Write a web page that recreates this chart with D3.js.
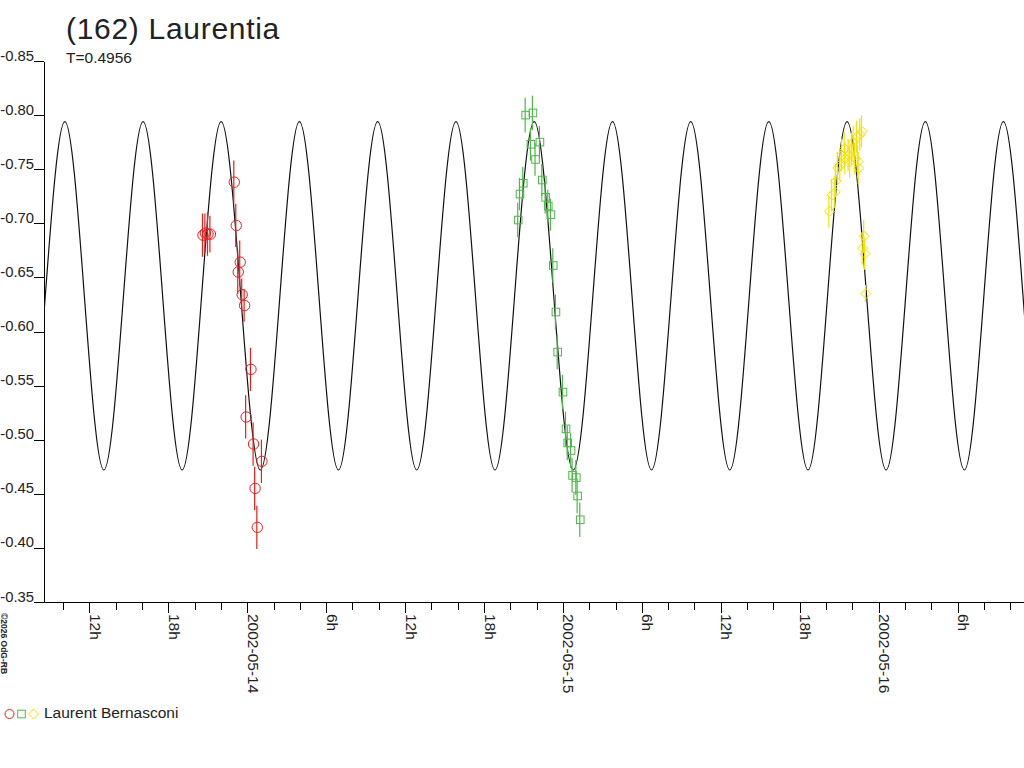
<!DOCTYPE html>
<meta charset="utf-8">
<style>
body { margin: 0; background: #fff; }
svg { display: block; font-family: "Liberation Sans", Arial, sans-serif; }
.axis path, .axis line { fill: none; stroke: #000; shape-rendering: crispEdges; }
.axis text { font-size: 15.5px; fill: #222; font-family: "Liberation Sans", Arial, sans-serif; }
.model { fill: none; stroke: #111; stroke-width: 1.2px; }
.err { stroke-width: 1.2px; }
.mark { fill: none; stroke-width: 1px; }
</style>
<svg width="1024" height="768"></svg>
<script src="https://d3js.org/d3.v7.min.js"></script>
<script>
// model lightcurve: extrema (time UT, mag)
var modelPoints = [
  ["2002-05-13 04:11", -0.794],
  ["2002-05-13 07:10", -0.472], ["2002-05-13 10:08", -0.794], ["2002-05-13 13:06", -0.472],
  ["2002-05-13 16:05", -0.794], ["2002-05-13 19:03", -0.472], ["2002-05-13 22:01", -0.794],
  ["2002-05-14 01:00", -0.472], ["2002-05-14 03:58", -0.794], ["2002-05-14 06:56", -0.472],
  ["2002-05-14 09:55", -0.794], ["2002-05-14 12:53", -0.472], ["2002-05-14 15:52", -0.794],
  ["2002-05-14 18:50", -0.472], ["2002-05-14 21:49", -0.794], ["2002-05-15 00:47", -0.472],
  ["2002-05-15 03:46", -0.794], ["2002-05-15 06:44", -0.472], ["2002-05-15 09:43", -0.794],
  ["2002-05-15 12:41", -0.472], ["2002-05-15 15:39", -0.794], ["2002-05-15 18:38", -0.472],
  ["2002-05-15 21:36", -0.794], ["2002-05-16 00:34", -0.472], ["2002-05-16 03:33", -0.794],
  ["2002-05-16 06:31", -0.472], ["2002-05-16 09:29", -0.794], ["2002-05-16 12:28", -0.472],
  ["2002-05-16 15:26", -0.794]
];

// session 1 (time, mag, error)
var session1 = [
  ["2002-05-13 20:38", -0.689, 0.020], ["2002-05-13 20:49", -0.691, 0.018],
  ["2002-05-13 21:01", -0.690, 0.020], ["2002-05-13 21:12", -0.690, 0.017],
  ["2002-05-13 23:01", -0.738, 0.020], ["2002-05-13 23:10", -0.698, 0.020],
  ["2002-05-13 23:28", -0.664, 0.020], ["2002-05-13 23:19", -0.655, 0.020],
  ["2002-05-13 23:37", -0.634, 0.015], ["2002-05-13 23:48", -0.624, 0.015],
  ["2002-05-14 00:17", -0.565, 0.020], ["2002-05-13 23:55", -0.521, 0.020],
  ["2002-05-14 00:29", -0.496, 0.020], ["2002-05-14 01:07", -0.480, 0.020],
  ["2002-05-14 00:36", -0.455, 0.020], ["2002-05-14 00:46", -0.419, 0.020]
];

// session 2
var session2 = [
  ["2002-05-14 21:10", -0.800, 0.016], ["2002-05-14 21:43", -0.802, 0.016],
  ["2002-05-14 21:34", -0.773, 0.015], ["2002-05-14 22:15", -0.775, 0.015],
  ["2002-05-14 21:55", -0.759, 0.015], ["2002-05-14 22:26", -0.740, 0.015],
  ["2002-05-14 20:59", -0.737, 0.015], ["2002-05-14 20:44", -0.727, 0.015],
  ["2002-05-14 22:41", -0.724, 0.015], ["2002-05-14 22:53", -0.716, 0.015],
  ["2002-05-14 23:05", -0.708, 0.015], ["2002-05-14 20:36", -0.703, 0.016],
  ["2002-05-14 23:16", -0.661, 0.016], ["2002-05-14 23:28", -0.618, 0.016],
  ["2002-05-14 23:36", -0.581, 0.016], ["2002-05-15 00:00", -0.544, 0.016],
  ["2002-05-15 00:14", -0.510, 0.016], ["2002-05-15 00:22", -0.497, 0.016],
  ["2002-05-15 00:37", -0.490, 0.016], ["2002-05-15 00:44", -0.467, 0.016],
  ["2002-05-15 01:01", -0.465, 0.016], ["2002-05-15 01:07", -0.448, 0.016],
  ["2002-05-15 01:19", -0.426, 0.016]
];

// session 3
var session3 = [
  ["2002-05-15 20:15", -0.711, 0.015], ["2002-05-15 20:27", -0.726, 0.015],
  ["2002-05-15 20:42", -0.729, 0.015], ["2002-05-15 20:45", -0.739, 0.015],
  ["2002-05-15 20:54", -0.751, 0.015], ["2002-05-15 21:05", -0.754, 0.015],
  ["2002-05-15 21:13", -0.763, 0.015], ["2002-05-15 21:25", -0.769, 0.015],
  ["2002-05-15 21:28", -0.760, 0.015], ["2002-05-15 21:43", -0.763, 0.015],
  ["2002-05-15 21:50", -0.757, 0.015], ["2002-05-15 21:58", -0.769, 0.015],
  ["2002-05-15 22:06", -0.775, 0.015], ["2002-05-15 22:13", -0.760, 0.015],
  ["2002-05-15 22:21", -0.780, 0.015], ["2002-05-15 22:29", -0.751, 0.015],
  ["2002-05-15 22:36", -0.782, 0.015], ["2002-05-15 22:44", -0.785, 0.015],
  ["2002-05-15 22:26", -0.757, 0.015], ["2002-05-15 22:54", -0.688, 0.015],
  ["2002-05-15 22:47", -0.677, 0.015], ["2002-05-15 22:58", -0.672, 0.015],
  ["2002-05-15 23:02", -0.635, 0.008]
];

var yTicks = [-0.85, -0.80, -0.75, -0.70, -0.65, -0.60, -0.55, -0.50, -0.45, -0.40, -0.35];
var timeDomain = ["2002-05-13 08:33", "2002-05-16 11:03"];
var magDomain = [-0.85, -0.35];

var parse = d3.utcParse("%Y-%m-%d %H:%M");

var svg = d3.select("svg");
var plot = {x0: 44, x1: 1024, y0: 61, y1: 602};

var x = d3.scaleUtc()
    .domain(timeDomain.map(parse))
    .range([plot.x0, plot.x1]);

var y = d3.scaleLinear()
    .domain(magDomain)
    .range([plot.y0, plot.y1]);

// title
svg.append("text")
    .attr("x", 66).attr("y", 39)
    .style("font-size", "30px")
    .style("letter-spacing", "0.7px")
    .attr("fill", "#222")
    .text("(162) Laurentia");

svg.append("text")
    .attr("x", 66).attr("y", 63)
    .style("font-size", "15.5px")
    .attr("fill", "#222")
    .text("T=0.4956");

// y axis
var yAxis = svg.append("g")
    .attr("class", "axis")
    .attr("transform", "translate(" + plot.x0 + ",0)")
    .call(d3.axisLeft(y).tickValues(yTicks).tickSize(10).tickSizeOuter(0).tickPadding(0)
      .tickFormat(function(d) { return d.toFixed(2); }));
yAxis.selectAll("text").attr("dy", "0").attr("y", -1).style("font-size", "14.8px");

// x axis
var xAxis = svg.append("g")
    .attr("class", "axis")
    .attr("transform", "translate(0," + plot.y1 + ")")
    .call(d3.axisBottom(x).ticks(d3.utcHour.every(2)).tickSize(8).tickSizeOuter(0)
      .tickFormat(function(d) {
        var h = d.getUTCHours();
        if (h % 6 !== 0) return "";
        return h === 0 ? d3.utcFormat("%Y-%m-%d")(d) : h + "h";
      }));
xAxis.selectAll(".tick").filter(function(d) { return d.getUTCHours() % 6 === 0; })
    .select("line").attr("y2", 11);
xAxis.selectAll("text")
    .attr("transform", "rotate(90)")
    .attr("x", 12).attr("y", 0).attr("dy", "0")
    .style("text-anchor", "start");

// model curve
svg.append("clipPath").attr("id", "plot")
  .append("rect").attr("x", plot.x0).attr("y", 0).attr("width", plot.x1 - plot.x0).attr("height", 768);

var line = d3.line()
    .x(function(d) { return x(parse(d[0])); })
    .y(function(d) { return y(d[1]); })
    .curve(d3.curveMonotoneX);

svg.append("path")
    .attr("class", "model")
    .attr("clip-path", "url(#plot)")
    .attr("d", line(modelPoints));

// observations
var sessions = [
  { data: session1, color: "#ee1c1c", shape: "circle" },
  { data: session2, color: "#4cb848", shape: "square" },
  { data: session3, color: "#f2e400", shape: "diamond" }
];

function marker(g, shape, color) {
  if (shape === "circle") {
    g.append("circle").attr("r", 5.2).attr("class", "mark").attr("stroke", color);
  } else if (shape === "square") {
    g.append("rect").attr("x", -3.8).attr("y", -3.8).attr("width", 7.6).attr("height", 7.6)
      .attr("class", "mark").attr("stroke", color);
  } else {
    g.append("path").attr("d", "M0,-5L5,0L0,5L-5,0Z").attr("class", "mark").attr("stroke", color);
  }
}

sessions.forEach(function(s) {
  var grp = svg.append("g");
  grp.selectAll("line.err")
    .data(s.data)
    .enter().append("line")
      .attr("class", "err")
      .attr("stroke", s.color)
      .attr("x1", function(d) { return x(parse(d[0])) - 0.5; })
      .attr("x2", function(d) { return x(parse(d[0])) - 0.5; })
      .attr("y1", function(d) { return y(d[1] - d[2]); })
      .attr("y2", function(d) { return y(d[1] + d[2]); });
  grp.selectAll("g.pt")
    .data(s.data)
    .enter().append("g")
      .attr("transform", function(d) { return "translate(" + x(parse(d[0])) + "," + y(d[1]) + ")"; })
      .each(function() { marker(d3.select(this), s.shape, s.color); });
});

// copyright
svg.append("text")
    .attr("transform", "translate(1,613) rotate(90)")
    .style("font-size", "8.5px")
    .style("font-weight", "bold")
    .attr("fill", "#222")
    .text("\u00a92026 OdG-RB");

// legend
var leg = svg.append("g").attr("transform", "translate(0,714)");
[["circle", sessions[0].color, 9.5], ["square", sessions[1].color, 21.5], ["diamond", sessions[2].color, 33.5]]
  .forEach(function(m) {
    var g = leg.append("g").attr("transform", "translate(" + m[2] + ",0)");
    marker(g, m[0], m[1]);
  });
leg.select("circle").attr("r", 4.5);
leg.append("text")
    .attr("x", 44).attr("y", 4)
    .style("font-size", "15.5px")
    .attr("fill", "#222")
    .text("Laurent Bernasconi");
</script>
